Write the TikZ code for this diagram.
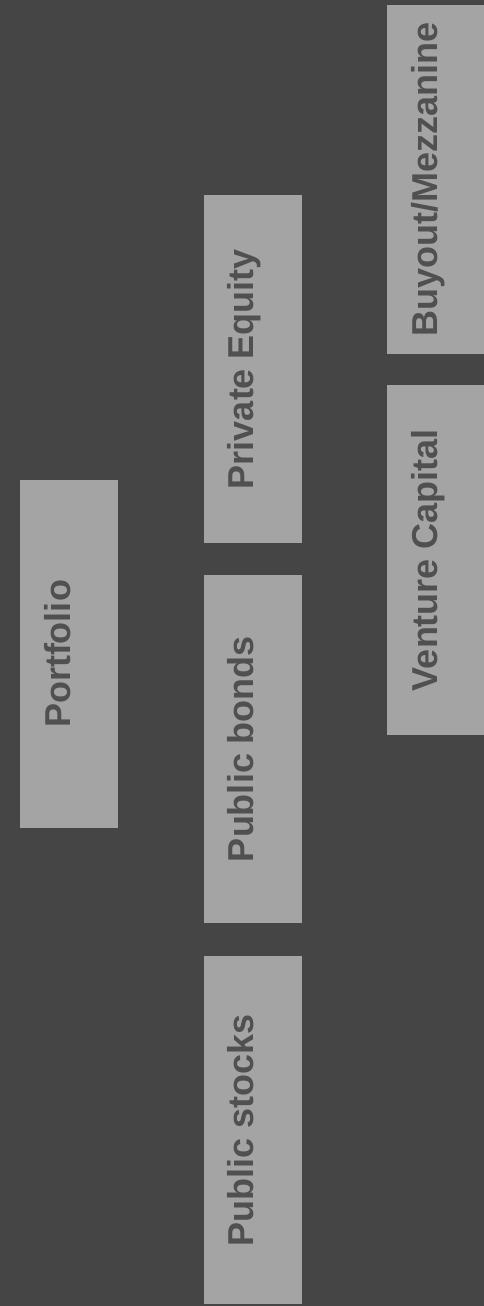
\documentclass[tikz,border=0pt]{standalone}
\usepackage{fontspec}
\setmainfont{Liberation Sans}
\definecolor{bgdark}{HTML}{454545}
\definecolor{boxgray}{HTML}{A4A4A4}
\definecolor{txtgray}{HTML}{505050}
\begin{document}
\begin{tikzpicture}[x=1pt,y=-1pt,
  catbox/.style={fill=boxgray, draw=none, inner sep=0pt, minimum width=98pt},
  cattext/.style={rotate=90, anchor=base, inner sep=0pt, text=txtgray, font=\fontsize{36}{40}\selectfont\bfseries}]
\fill[bgdark] (0,0) rectangle (484,1306);
\useasboundingbox (0,0) rectangle (484,1306);
% boxes
\node[catbox, minimum height=348pt] (portfolio) at (69,654) {};
\node[catbox, minimum height=348pt] (pe) at (252.5,369) {};
\node[catbox, minimum height=348pt] (bonds) at (252.5,749) {};
\node[catbox, minimum height=348pt] (stocks) at (252.5,1130) {};
\node[catbox, minimum height=349pt] (buyout) at (436,179.5) {};
\node[catbox, minimum height=350pt] (vc) at (436,560) {};
% labels
\node[cattext] (tportfolio) at ([xshift=1pt]portfolio.center) {Portfolio};
\node[cattext] (tpe) at ([xshift=1pt]pe.center) {Private Equity};
\node[cattext] (tbonds) at ([xshift=1pt]bonds.center) {Public bonds};
\node[cattext] (tstocks) at ([xshift=1pt]stocks.center) {Public stocks};
\node[cattext] (tbuyout) at ([xshift=1pt]buyout.center) {Buyout/Mezzanine};
\node[cattext] (tvc) at ([xshift=1pt]vc.center) {Venture Capital};
\end{tikzpicture}
\end{document}
